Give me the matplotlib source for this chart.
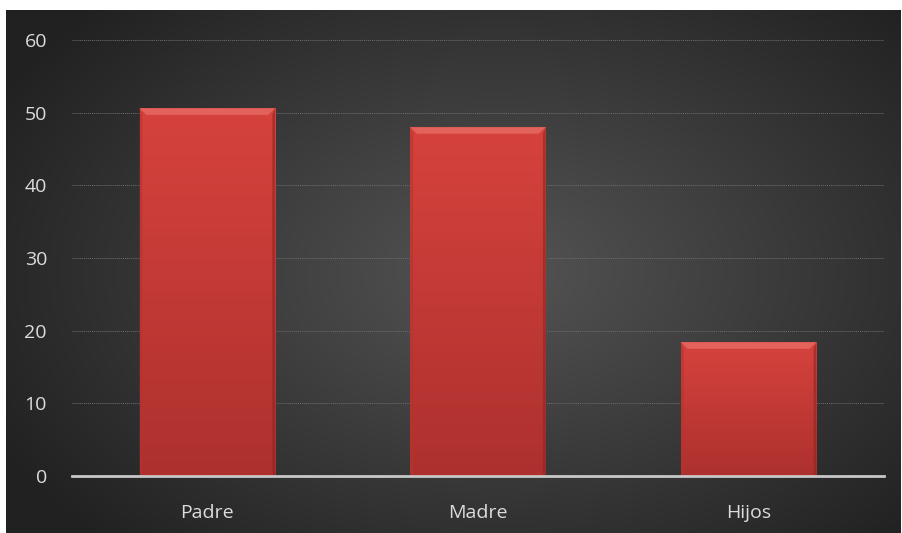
import numpy as np
import matplotlib.pyplot as plt
import matplotlib.patheffects as pe
from matplotlib.patches import Polygon

# data
categories = ['Padre', 'Madre', 'Hijos']
values = [50.6, 48.0, 18.4]
yticks = [0, 10, 20, 30, 40, 50, 60]

plt.rcParams['font.family'] = ['Open Sans', 'DejaVu Sans']

fig = plt.figure(figsize=(9.03, 5.33), dpi=100, facecolor='white')

# dark radial background
bg = fig.add_axes([6 / 903, 0, 895 / 903, 523 / 533])
bg.set_axis_off()
yy, xx = np.mgrid[0:1:300j, 0:1:500j]
r = np.sqrt(((xx - 0.55) / 0.75) ** 2 + ((yy - 0.5) / 0.85) ** 2)
r = np.clip(r / 0.85, 0, 1)
c0 = np.array([0.33, 0.33, 0.33])
c1 = np.array([0.13, 0.13, 0.13])
img = c0[None, None, :] * (1 - r[..., None]) + c1[None, None, :] * r[..., None]
bg.imshow(img, extent=[0, 1, 0, 1], aspect='auto', origin='lower')
bg.set_xlim(0, 1)
bg.set_ylim(0, 1)

ax = fig.add_axes([72 / 903, (533 - 476) / 533, 812 / 903, 436 / 533])
ax.patch.set_alpha(0)
x = np.arange(len(categories))
bars = ax.bar(x, values, width=0.5, color='#c63b36', zorder=3,
              path_effects=[pe.SimplePatchShadow(offset=(0, -1), shadow_rgbFace='black', alpha=0.6),
                            pe.Normal()])

# vertical shading + bevel on each bar
grad = np.linspace(0, 1, 100)[:, None]
red_top = np.array([0.84, 0.26, 0.24])
red_bot = np.array([0.68, 0.19, 0.18])
gimg = red_bot[None, None, :] * (1 - grad[..., None]) + red_top[None, None, :] * grad[..., None]
for b in bars:
    x0, w, h = b.get_x(), b.get_width(), b.get_height()
    im = ax.imshow(gimg, extent=[x0, x0 + w, 0, h], aspect='auto', origin='lower', zorder=4)
    im.set_clip_path(b)
    dx = w * 0.05
    dy = 0.9
    top = Polygon([[x0, h], [x0 + w, h], [x0 + w - dx, h - dy], [x0 + dx, h - dy]],
                  closed=True, facecolor='#e3625b', edgecolor='none', zorder=5)
    ax.add_patch(top)
    side_l = Polygon([[x0, h], [x0 + dx * 0.4, h - dy], [x0 + dx * 0.4, 0.3], [x0, 0]],
                     closed=True, facecolor='#b8322e', edgecolor='none', zorder=5, alpha=0.6)
    side_r = Polygon([[x0 + w, h], [x0 + w - dx * 0.4, h - dy], [x0 + w - dx * 0.4, 0.3], [x0 + w, 0]],
                     closed=True, facecolor='#8e2522', edgecolor='none', zorder=5, alpha=0.6)
    ax.add_patch(side_l)
    ax.add_patch(side_r)

ax.set_xlim(-0.5, len(categories) - 0.5)
ax.set_ylim(0, 60)
ax.set_yticks(yticks)
ax.set_xticks(x)
ax.set_xticklabels(categories)
ax.grid(axis='y', color='#6e6e6e', linestyle=(0, (1, 1)), linewidth=0.7, zorder=1)
ax.tick_params(axis='both', length=0, colors='#dcdcdc', labelsize=14)
ax.tick_params(axis='y', pad=18)
ax.tick_params(axis='x', pad=20)
for s in ['top', 'right', 'left']:
    ax.spines[s].set_visible(False)
ax.spines['bottom'].set_color('#c8c8c8')
ax.spines['bottom'].set_linewidth(2)
ax.spines['bottom'].set_zorder(6)

fig.savefig('out.png', dpi=100, facecolor='white')
